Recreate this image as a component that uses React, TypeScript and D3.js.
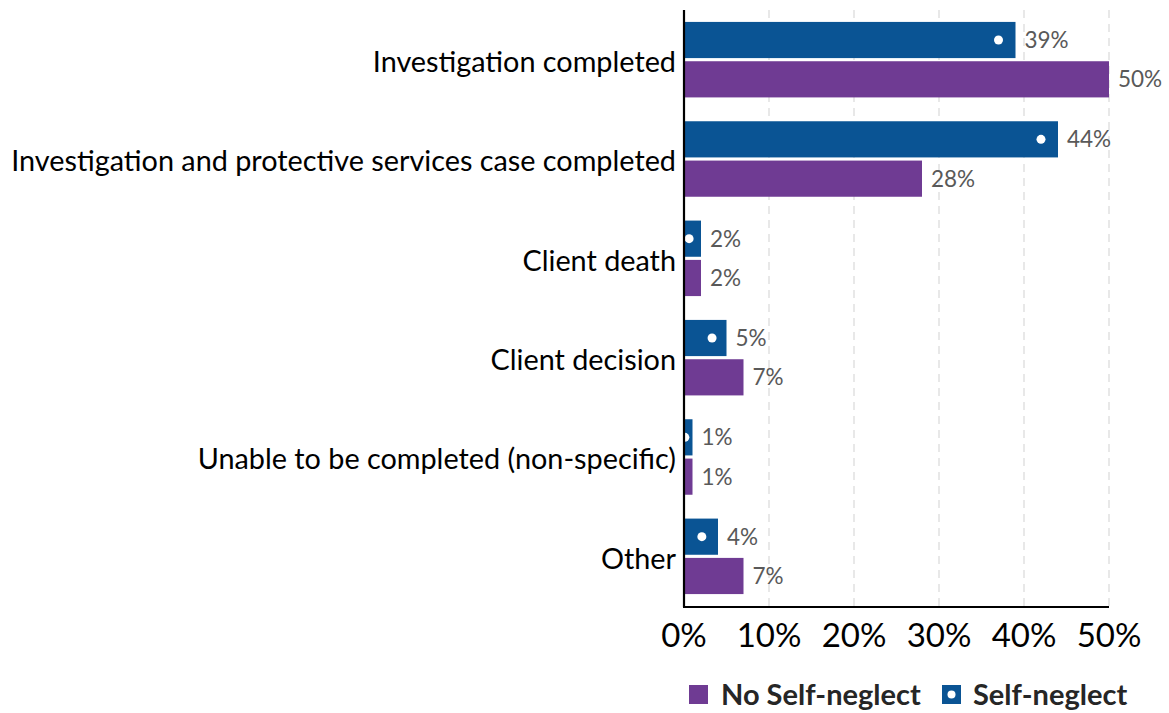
import React from "react";
import * as d3 from "d3";

const categories = [
  "Investigation completed",
  "Investigation and protective services case completed",
  "Client death",
  "Client decision",
  "Unable to be completed (non-specific)",
  "Other",
];
const seriesNames = ["Self-neglect", "No Self-neglect"];
const selfNeglect = [39, 44, 2, 5, 1, 4];
const noSelfNeglect = [50, 28, 2, 7, 1, 7];
const dotPositions = [37, 42, 0.6, 3.3, 0.1, 2.1];
const ticks = [0, 10, 20, 30, 40, 50];
const colors = { "Self-neglect": "#0a5494", "No Self-neglect": "#6f3b93" };

const W = 1169;
const H = 713;
const FONT = "Lato, 'Open Sans', sans-serif";

export default function App() {
  const x = d3.scaleLinear().domain([0, 50]).range([684, 1109]);
  const y = d3.scaleBand<string>().domain(categories).range([10, 606]).paddingInner(0.24).paddingOuter(0.12);
  const sub = d3.scaleBand<string>().domain(seriesNames).range([0, y.bandwidth()]).paddingInner(0.08);
  const series = [
    { name: "Self-neglect", values: selfNeglect },
    { name: "No Self-neglect", values: noSelfNeglect },
  ];
  return (
    <div style={{ position: "fixed", left: 0, top: 0 }}>
      <svg width={W} height={H} style={{ display: "block", background: "#fff" }}>
        {ticks.filter((t) => t > 0).map((t) => (
          <line key={t} x1={x(t)} x2={x(t)} y1={10} y2={606} stroke="#d9d9d9" strokeWidth={1.2} strokeDasharray="8,6" />
        ))}
        {categories.map((c, i) => (
          <g key={c}>
            {series.map((s) => (
              <g key={s.name}>
                <rect
                  x={x(0)}
                  y={(y(c) as number) + (sub(s.name) as number)}
                  width={x(s.values[i]) - x(0)}
                  height={sub.bandwidth()}
                  fill={(colors as any)[s.name]}
                />
                <text
                  x={x(s.values[i]) + 9}
                  y={(y(c) as number) + (sub(s.name) as number) + sub.bandwidth() / 2}
                  dy="0.36em"
                  fontFamily={FONT}
                  fontSize={22.5}
                  fill="#595959"
                >
                  {s.values[i]}%
                </text>
              </g>
            ))}
            <circle
              cx={x(dotPositions[i])}
              cy={(y(c) as number) + (sub("Self-neglect") as number) + sub.bandwidth() / 2}
              r={4.5}
              fill="#fff"
            />
            <text
              x={676}
              y={(y(c) as number) + y.bandwidth() / 2 + 2}
              dy="0.36em"
              textAnchor="end"
              fontFamily={FONT}
              fontSize={28.8}
              fill="#000"
            >
              {c}
            </text>
          </g>
        ))}
        <line x1={684} x2={684} y1={10} y2={607} stroke="#000" strokeWidth={2.2} />
        <line x1={683} x2={1109} y1={607} y2={607} stroke="#000" strokeWidth={2.2} />
        {ticks.map((t) => (
          <text key={t} x={x(t)} y={647} textAnchor="middle" fontFamily={FONT} fontSize={33} fill="#000">
            {t}%
          </text>
        ))}
        <g>
          <rect x={689} y={685} width={19} height={19} fill={colors["No Self-neglect"]} />
          <text x={721} y={705} fontFamily={FONT} fontSize={29} fontWeight="bold" fill="#262626">
            No Self-neglect
          </text>
          <rect x={942} y={685} width={19} height={19} fill={colors["Self-neglect"]} />
          <circle cx={951.5} cy={694.5} r={4} fill="#fff" />
          <text x={973} y={705} fontFamily={FONT} fontSize={29} fontWeight="bold" fill="#262626">
            Self-neglect
          </text>
        </g>
      </svg>
    </div>
  );
}
